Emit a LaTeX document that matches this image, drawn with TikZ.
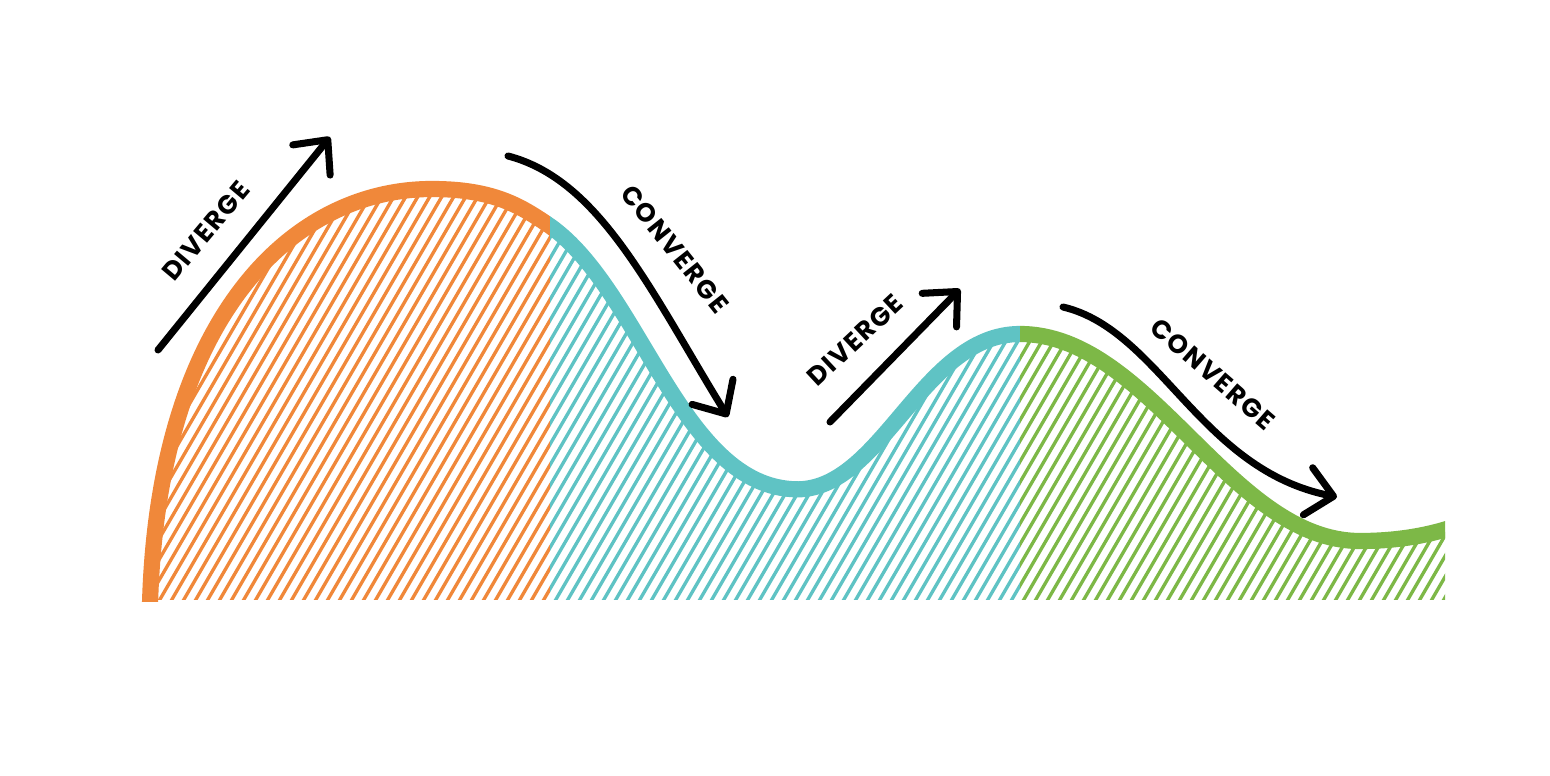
\documentclass[tikz,border=0pt]{standalone}
\usepackage{fontspec}
\newfontfamily\labelfont[LetterSpace=6]{Poppins}
\usetikzlibrary{arrows.meta}

\definecolor{divorange}{HTML}{F0883A}
\definecolor{convteal}{HTML}{5FC3C4}
\definecolor{convgreen}{HTML}{7DB847}

%% the wave, in pixel units
\newcommand{\wavepath}{(150,604) .. controls (158,320) and (290,189) .. (432,189)
  .. controls (495,189) and (522,207) .. (550,226)
  .. controls (640,290) and (680,480) .. (790,489)
  .. controls (880,498) and (920,334) .. (1020,334)
  .. controls (1150,334) and (1230,541) .. (1360,541)
  .. controls (1395,541) and (1425,536) .. (1450,528)}

\begin{document}
\begin{tikzpicture}[x=0.01cm,y=-0.01cm,
  wave/.style={line width=4.6pt},
  hatch/.style={line width=0.95pt},
  arrowline/.style={line width=2pt,line cap=round,
    -{Straight Barb[length=2.6mm,width=4.8mm,round]}},
  tag/.style={font=\labelfont\bfseries\fontsize{7.4}{8}\selectfont,inner sep=0pt}]

\useasboundingbox (0,0) rectangle (1550,776);
\fill[white] (0,0) rectangle (1550,776);

%\draw[help lines] (0,0) grid[step=100] (1550,776);

%% hatching under the wave
\begin{scope}
\clip \wavepath -- (1450,600) -- (150,600) -- cycle;
\begin{scope}
\clip (0,0) rectangle (550,600);
\foreach \x in {-212,-200,...,560}
  \draw[hatch,divorange] (\x,620) -- ++(360,-620);
\end{scope}
\begin{scope}
\clip (550,0) rectangle (1020,600);
\foreach \x in {184,196,...,1024}
  \draw[hatch,convteal] (\x,620) -- ++(360,-620);
\end{scope}
\begin{scope}
\clip (1020,0) rectangle (1445,600);
\foreach \x in {652,664,...,1456}
  \draw[hatch,convgreen] (\x,620) -- ++(360,-620);
\end{scope}
\end{scope}

%% the wave itself, one colour per part
\begin{scope}
\clip (0,0) rectangle (550,602);
\draw[wave,divorange] \wavepath;
\end{scope}
\begin{scope}
\clip (550,0) rectangle (1020,602);
\draw[wave,convteal] \wavepath;
\end{scope}
\begin{scope}
\clip (1020,0) rectangle (1445,602);
\draw[wave,convgreen] \wavepath;
\end{scope}

%% first diverge
\coordinate (d1s) at (158,350);
\coordinate (d1e) at (330,137);
\draw[arrowline] (d1s) -- (d1e);
\node[tag,rotate=50] (div1) at (206,231) {DIVERGE};

%% first converge
\coordinate (c1s) at (508,156);
\coordinate (c1e) at (728,417);
\draw[arrowline] (c1s) .. controls (600,180) and (650,290) .. (c1e);
\node[tag,rotate=-51.5] (conv1) at (675,249) {CONVERGE};

%% second diverge
\coordinate (d2s) at (830,422);
\coordinate (d2e) at (960,289);
\draw[arrowline] (d2s) -- (d2e);
\node[tag,rotate=43] (div2) at (855,340) {DIVERGE};

%% second converge
\coordinate (c2s) at (1063,307);
\coordinate (c2e) at (1337,497);
\draw[arrowline] (c2s) .. controls (1160,330) and (1200,470) .. (c2e);
\node[tag,rotate=-41] (conv2) at (1213,374) {CONVERGE};

\end{tikzpicture}
\end{document}
